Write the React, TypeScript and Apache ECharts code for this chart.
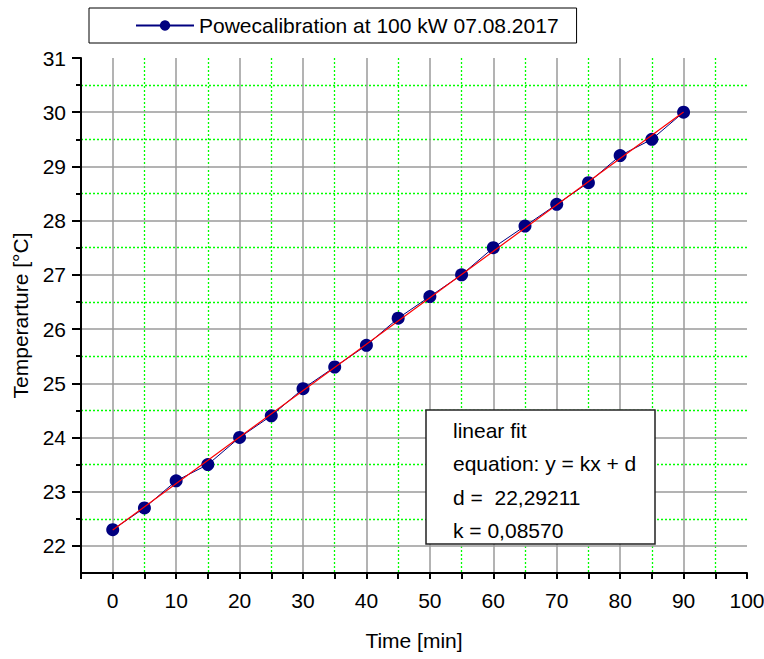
import React, { useEffect, useRef } from 'react';
import * as echarts from 'echarts';

const seriesName = 'Powecalibration at 100 kW 07.08.2017';
const timeMin = [0, 5, 10, 15, 20, 25, 30, 35, 40, 45, 50, 55, 60, 65, 70, 75, 80, 85, 90];
const temperature = [22.3, 22.7, 23.2, 23.5, 24.0, 24.4, 24.9, 25.3, 25.7, 26.2, 26.6, 27.0, 27.5, 27.9, 28.3, 28.7, 29.2, 29.5, 30.0];

const fitD = 22.29211;
const fitK = 0.0857;
const fitRange = [0, 90];
const fitLines = ['linear fit', 'equation: y = kx + d', 'd =\u00a0\u00a022,29211', 'k = 0,08570'];

const xTickValues = [-5, 0, 5, 10, 15, 20, 25, 30, 35, 40, 45, 50, 55, 60, 65, 70, 75, 80, 85, 90, 95, 100];
const xLabelValues = [0, 10, 20, 30, 40, 50, 60, 70, 80, 90, 100];
const xMajorGrid = [0, 10, 20, 30, 40, 50, 60, 70, 80, 90];
const xMinorGrid = [5, 15, 25, 35, 45, 55, 65, 75, 85, 95];
const yLabelValues = [22, 23, 24, 25, 26, 27, 28, 29, 30, 31];
const yMinorValues = [22.5, 23.5, 24.5, 25.5, 26.5, 27.5, 28.5, 29.5, 30.5];

const FONT = '"Liberation Sans", Arial, Helvetica, sans-serif';
const GRAY = '#9a9a9a';
const GREEN = '#00ff00';
const NAVY = '#000080';

export default function App() {
  const ref = useRef<HTMLDivElement>(null);

  useEffect(() => {
    if (!ref.current) return;
    const chart = echarts.init(ref.current, undefined, { renderer: 'svg' });

    const hidden = {
      axisLine: { show: false, onZero: false },
      axisLabel: { show: false },
      nameMoveOverlap: false,
    };

    const fitTextY = [430, 463.5, 497, 530.5];

    const option: any = {
      animation: false,
      backgroundColor: '#ffffff',
      textStyle: { fontFamily: FONT },
      grid: { left: 81, right: 17, top: 58, bottom: 86, containLabel: false, outerBoundsMode: 'none' },
      legend: {
        data: [seriesName],
        left: 89,
        top: 8,
        padding: [7, 18, 7, 46],
        borderColor: '#000',
        borderWidth: 1,
        backgroundColor: '#fff',
        itemWidth: 58,
        itemHeight: 13,
        textStyle: { fontSize: 21, color: '#000', fontFamily: FONT },
      },
      xAxis: [
        {
          type: 'value',
          position: 'bottom',
          min: -5,
          max: 100,
          z: 5,
          axisLine: { show: true, onZero: false, lineStyle: { color: '#000', width: 2 } },
          axisTick: { show: true, inside: false, length: 6, customValues: xTickValues, lineStyle: { color: '#000', width: 2 } },
          axisLabel: { show: true, customValues: xLabelValues, margin: 17, color: '#000', fontSize: 21, fontFamily: FONT },
          splitLine: { show: false },
          name: 'Time [min]',
          nameLocation: 'middle',
          nameGap: 57,
          nameMoveOverlap: false,
          nameTextStyle: { fontSize: 21, color: '#000', fontFamily: FONT },
        },
        {
          type: 'value',
          position: 'bottom',
          min: -5,
          max: 100,
          z: 4,
          ...hidden,
          axisTick: { show: false, customValues: xMajorGrid },
          splitLine: { show: true, lineStyle: { color: GRAY, width: 1.5, type: 'solid' } },
        },
        {
          type: 'value',
          position: 'bottom',
          min: -5,
          max: 100,
          z: 1,
          ...hidden,
          axisTick: { show: false, customValues: xMinorGrid },
          splitLine: { show: true, lineStyle: { color: GREEN, width: 1.3, type: [2, 2] } },
        },
      ],
      yAxis: [
        {
          type: 'value',
          position: 'left',
          min: 21.5,
          max: 31,
          z: 5,
          axisLine: { show: true, onZero: false, lineStyle: { color: '#000', width: 2 } },
          axisTick: { show: true, inside: false, length: 9, customValues: yLabelValues, lineStyle: { color: '#000', width: 2 } },
          axisLabel: { show: true, customValues: yLabelValues, margin: 15, color: '#000', fontSize: 21, fontFamily: FONT },
          splitLine: { show: true, showMinLine: true, showMaxLine: false, lineStyle: { color: GRAY, width: 1.5, type: 'solid' } },
          name: 'Temperarture [°C]',
          nameLocation: 'middle',
          nameGap: 50,
          nameMoveOverlap: false,
          nameTextStyle: { fontSize: 21, color: '#000', fontFamily: FONT },
        },
        {
          type: 'value',
          position: 'left',
          min: 21.5,
          max: 31,
          z: 1,
          ...hidden,
          axisTick: { show: true, inside: false, length: 5, customValues: yMinorValues, lineStyle: { color: '#000', width: 2 } },
          splitLine: { show: true, lineStyle: { color: GREEN, width: 1.3, type: [2, 2] } },
        },
      ],
      series: [
        {
          name: seriesName,
          type: 'line',
          xAxisIndex: 0,
          yAxisIndex: 0,
          data: timeMin.map((t, i) => [t, temperature[i]]),
          symbol: 'circle',
          symbolSize: 13,
          showAllSymbol: true,
          itemStyle: { color: NAVY },
          lineStyle: { color: NAVY, width: 1 },
          z: 10,
        },
        {
          name: 'Linear fit',
          type: 'line',
          xAxisIndex: 0,
          yAxisIndex: 0,
          data: fitRange.map((x) => [x, fitD + fitK * x]),
          symbol: 'none',
          lineStyle: { color: '#ff0000', width: 1.2 },
          z: 11,
        },
      ],
      graphic: [
        {
          type: 'rect',
          shape: { x: 426, y: 410, width: 229, height: 134 },
          style: { fill: '#fff', stroke: '#222', lineWidth: 1.5 },
          z: 100,
        },
        ...fitLines.map((t, i) => ({
          type: 'text',
          x: 453,
          y: fitTextY[i],
          style: { text: t, fill: '#000', fontSize: 21, fontFamily: FONT, verticalAlign: 'middle', align: 'left' },
          z: 101,
        })),
      ],
    };

    chart.setOption(option);
    return () => chart.dispose();
  }, []);

  return (
    <div
      ref={ref}
      style={{ position: 'fixed', left: 0, top: 0, width: 764, height: 659, background: '#fff' }}
    />
  );
}
